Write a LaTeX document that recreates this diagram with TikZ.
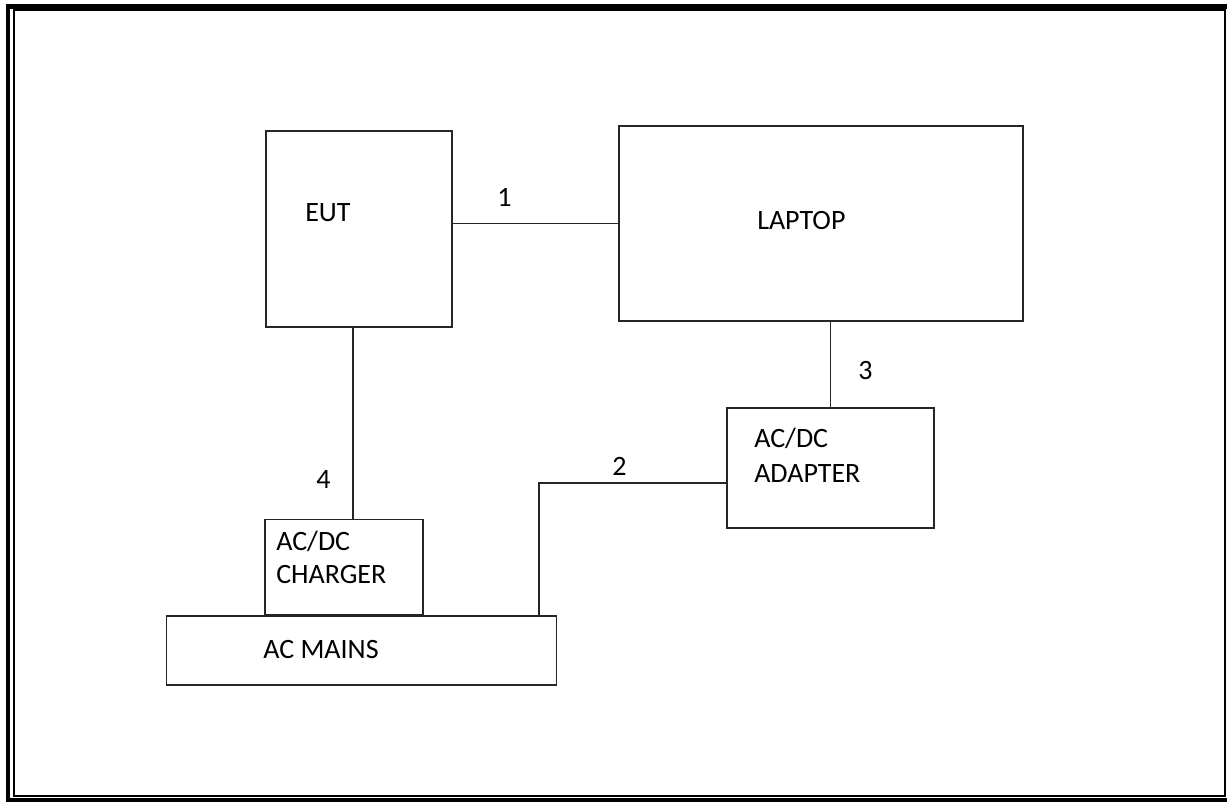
\documentclass[tikz,border=0pt]{standalone}
\usepackage{fontspec}
\setmainfont{Carlito}
\begin{document}
\begin{tikzpicture}[x=0.75pt,y=-0.75pt,
  box/.style={draw=black!85,line width=1.4pt,inner sep=0pt},
  txt/.style={anchor=base west,inner sep=0pt,font=\fontsize{21}{25}\selectfont},
  wire/.style={draw=black!85,line width=1.1pt}]
\useasboundingbox (0,0) rectangle (1227,802);
% page border
\draw[line width=3.5pt] (8,6.5) rectangle (1235,800);
\draw[line width=1.5pt] (13.5,10.5) rectangle (1224.5,796);
% boxes
\node[box,minimum width=139.5pt,minimum height=147pt] (eut) at (359,229) {};
\node[box,minimum width=303pt,minimum height=146.25pt] (laptop) at (821,223.5) {};
\node[box,minimum width=155.25pt,minimum height=90pt] (adapter) at (830.5,468) {};
\node[box,minimum width=118.5pt,minimum height=71.25pt] (charger) at (344,567) {};
\node[box,minimum width=292.5pt,minimum height=51.75pt] (mains) at (361.5,650.5) {};
% texts
\node[txt] (teut) at (305,222) {EUT};
\node[txt] (tlap) at (757,230) {LAPTOP};
\node[txt] (tad1) at (754,447) {AC/DC};
\node[txt] (tad2) at (754,482) {ADAPTER};
\node[txt] (tch1) at (276,550) {AC/DC};
\node[txt] (tch2) at (276,583) {CHARGER};
\node[txt] (tmain) at (263,658) {AC MAINS};
% labels
\node[txt] (l1) at (497,207) {1};
\node[txt] (l2) at (612,475) {2};
\node[txt] (l3) at (858,379) {3};
\node[txt] (l4) at (316,488) {4};
% connectors
\coordinate (c4) at (353,0);
\coordinate (c2) at (539,483);
\draw[wire] (eut.east |- laptop.west) -- (laptop.west);
\draw[wire] (adapter.north |- laptop.south) -- (adapter.north);
\draw[wire] (eut.south -| c4) -- (charger.north -| c4);
\draw[wire] (adapter.west |- c2) -- (c2) -- (mains.north -| c2);
\end{tikzpicture}
\end{document}
